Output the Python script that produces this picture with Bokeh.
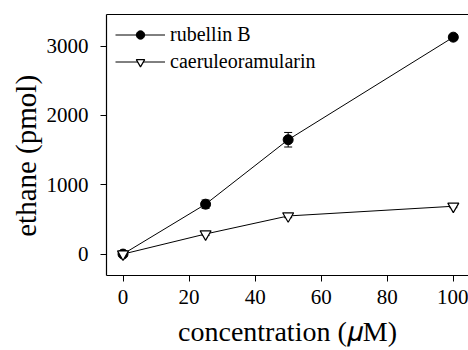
from bokeh.plotting import figure
from bokeh.models import (ColumnDataSource, Whisker, Legend, LegendItem,
                          LinearAxis, FixedTicker, Range1d)
from bokeh.embed import file_html
from bokeh.resources import INLINE

# ---- data ----
conc = [0, 25, 50, 100]
rubellin = [0, 720, 1650, 3130]
rubellin_err = [20, 60, 105, 40]
caeru = [0, 290, 550, 690]
caeru_err = [15, 20, 25, 20]
x_ticks = [0, 20, 40, 60, 80, 100]
y_ticks = [0, 1000, 2000, 3000]

FONT = "Liberation Serif"

p = figure(width=468, height=350, output_backend="svg", toolbar_location=None,
           x_range=Range1d(-5.0, 104.6), y_range=Range1d(-309, 3457),
           min_border_left=106, min_border_right=0, min_border_top=14,
           min_border_bottom=75)
p.background_fill_color = "white"
p.border_fill_color = "white"
p.outline_line_color = None
p.grid.visible = False

for ax in (p.xaxis[0], p.yaxis[0]):
    ax.axis_line_color = "black"
    ax.axis_line_width = 1.2
    ax.major_tick_line_color = "black"
    ax.major_tick_out = 6
    ax.major_tick_in = 0
    ax.minor_tick_line_color = None
    ax.major_label_text_font = FONT
    ax.major_label_text_font_size = "21px"
    ax.major_label_text_color = "black"
    ax.axis_label_text_font = FONT
    ax.axis_label_text_font_style = "normal"
    ax.axis_label_text_color = "black"
p.xaxis[0].ticker = FixedTicker(ticks=x_ticks)
p.yaxis[0].ticker = FixedTicker(ticks=y_ticks)
p.xaxis[0].major_label_standoff = 8
p.yaxis[0].major_label_standoff = 12

p.xaxis[0].axis_label = "concentration (\U0001D707M)"
p.xaxis[0].axis_label_text_font_size = "28px"
p.xaxis[0].axis_label_standoff = 9
p.yaxis[0].axis_label = "ethane (pmol)\u00a0\u00a0\u00a0"
p.yaxis[0].axis_label_text_font_size = "29px"
p.yaxis[0].axis_label_standoff = 2

top = LinearAxis(major_tick_line_color=None, minor_tick_line_color=None,
                 major_label_text_font_size="0px", axis_line_color="black",
                 axis_line_width=1.2, major_label_standoff=0)
top.ticker = FixedTicker(ticks=[])
p.add_layout(top, "above")

src_r = ColumnDataSource(dict(x=conc, y=rubellin,
                              lo=[v - e for v, e in zip(rubellin, rubellin_err)],
                              hi=[v + e for v, e in zip(rubellin, rubellin_err)]))
src_c = ColumnDataSource(dict(x=conc, y=caeru,
                              lo=[v - e for v, e in zip(caeru, caeru_err)],
                              hi=[v + e for v, e in zip(caeru, caeru_err)]))

for src in (src_r, src_c):
    w = Whisker(source=src, base="x", lower="lo", upper="hi",
                line_color="black", line_width=1)
    w.upper_head.size = 8
    w.lower_head.size = 8
    w.upper_head.line_color = "black"
    w.lower_head.line_color = "black"
    p.add_layout(w)

lr = p.line("x", "y", source=src_r, line_color="black", line_width=1)
mr = p.scatter("x", "y", source=src_r, marker="circle", size=10,
               fill_color="black", line_color="black")
lc = p.line("x", "y", source=src_c, line_color="black", line_width=1)
mc = p.scatter("x", "y", source=src_c, marker="inverted_triangle", size=11,
               fill_color="white", line_color="black", line_width=1.2)

legend = Legend(items=[LegendItem(label="rubellin B", renderers=[lr, mr]),
                       LegendItem(label="caeruleoramularin", renderers=[lc, mc])],
                location="top_left")
legend.border_line_color = None
legend.background_fill_alpha = 0
legend.label_text_font = FONT
legend.label_text_font_size = "20px"
legend.label_text_color = "black"
legend.glyph_width = 50
legend.glyph_height = 21
legend.label_standoff = 5
legend.spacing = 4
legend.padding = 6
legend.margin = 9
legend.label_height = 21
p.add_layout(legend)

open("out.html", "w").write(file_html(p, INLINE))
